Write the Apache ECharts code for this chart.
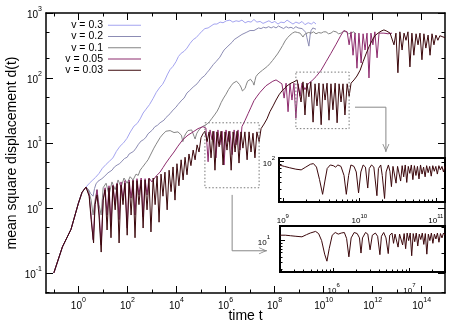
<!DOCTYPE html>
<html>
<head>
<meta charset="utf-8">
<title>mean square displacement</title>
<script src="https://cdn.jsdelivr.net/npm/echarts@6.0.0/dist/echarts.min.js"></script>
<style>
  html, body { margin: 0; padding: 0; background: #fff; }
  #chart { width: 463px; height: 324px; }
</style>
</head>
<body>
<div id="chart"></div>
<script>
// all points are [log10 t, log10 d(t)]
const names = ['v = 0.3', 'v = 0.2', 'v = 0.1', 'v = 0.05', 'v = 0.03']

// common short-time part, identical for every v
const ramp = [[-1.0,-1.0],[-0.65,-0.6],[-0.3,-0.33],[0.0,0.07],[0.15,0.24],[0.31,0.32]]

const v03 = [[0.45,0.38],[0.56,0.42],[0.70,0.47],[0.84,0.53],[0.98,0.61],[1.13,0.67],[1.27,0.72],[1.41,0.77],[1.55,0.87],[1.70,0.95],[1.84,1.00],[1.98,1.07],[2.12,1.17],[2.27,1.26],[2.40,1.30],[2.52,1.37],[2.64,1.46],[2.76,1.52],[2.90,1.59],[3.04,1.68],[3.18,1.78],[3.33,1.86],[3.43,1.90],[3.53,1.97],[3.64,2.06],[3.74,2.13],[3.86,2.18],[3.98,2.25],[4.08,2.33],[4.19,2.38],[4.31,2.41],[4.43,2.46],[4.55,2.53],[4.68,2.59],[4.80,2.62],[4.92,2.67],[5.04,2.72],[5.16,2.76],[5.29,2.77],[5.41,2.80],[5.53,2.83],[5.65,2.83],[5.78,2.86],[5.90,2.85],[6.04,2.88],[6.18,2.89],[6.30,2.86],[6.43,2.88],[6.55,2.87],[6.67,2.89],[6.80,2.85],[6.92,2.87],[7.04,2.86],[7.16,2.90],[7.28,2.86],[7.41,2.87],[7.53,2.84],[7.65,2.86],[7.77,2.88],[7.89,2.85],[8.01,2.87],[8.14,2.83],[8.26,2.86],[8.39,2.85],[8.51,2.89],[8.63,2.86],[8.75,2.83],[8.87,2.86],[9.00,2.84],[9.12,2.87],[9.24,2.82],[9.37,2.85],[9.50,2.83],[9.60,2.86],[9.69,2.83]]

const v02 = [[0.42,0.28],[0.50,0.22],[0.60,0.18],[0.66,0.30],[0.72,0.37],[0.80,0.41],[0.88,0.43],[0.96,0.45],[1.05,0.48],[1.13,0.50],[1.21,0.54],[1.29,0.55],[1.37,0.58],[1.47,0.63],[1.58,0.66],[1.68,0.68],[1.78,0.72],[1.88,0.76],[1.99,0.78],[2.07,0.83],[2.15,0.85],[2.25,0.87],[2.35,0.92],[2.45,0.98],[2.56,1.03],[2.66,1.05],[2.76,1.09],[2.84,1.14],[2.92,1.17],[3.02,1.20],[3.12,1.25],[3.22,1.27],[3.33,1.31],[3.41,1.32],[3.49,1.35],[3.57,1.39],[3.65,1.42],[3.74,1.45],[3.82,1.49],[3.90,1.52],[3.98,1.55],[4.06,1.59],[4.14,1.62],[4.22,1.66],[4.31,1.69],[4.43,1.77],[4.52,1.80],[4.60,1.83],[4.68,1.86],[4.76,1.89],[4.84,1.91],[4.92,1.95],[5.00,1.99],[5.08,2.02],[5.16,2.04],[5.24,2.08],[5.33,2.12],[5.41,2.15],[5.51,2.21],[5.61,2.25],[5.69,2.28],[5.77,2.32],[5.86,2.38],[5.94,2.43],[6.02,2.46],[6.10,2.49],[6.18,2.52],[6.27,2.55],[6.35,2.59],[6.43,2.62],[6.51,2.63],[6.59,2.65],[6.67,2.67],[6.75,2.68],[6.84,2.70],[6.92,2.71],[7.00,2.73],[7.08,2.74],[7.16,2.73],[7.24,2.75],[7.35,2.77],[7.45,2.76],[7.55,2.78],[7.65,2.77],[7.76,2.79],[7.86,2.77],[7.96,2.79],[8.06,2.77],[8.16,2.80],[8.26,2.78],[8.37,2.76],[8.47,2.79],[8.57,2.77],[8.67,2.78],[8.77,2.76],[8.87,2.79],[8.96,2.77],[9.04,2.78],[9.12,2.76],[9.20,2.74],[9.28,2.70],[9.32,2.62],[9.40,2.49],[9.45,2.66],[9.49,2.73],[9.56,2.77],[9.61,2.76],[9.69,2.75]]

const v01 = [[0.40,0.28],[0.52,0.12],[0.60,-0.11],[0.68,0.12],[0.76,0.28],[0.84,0.05],[0.93,-0.11],[1.01,0.31],[1.13,0.38],[1.25,0.20],[1.37,0.40],[1.50,0.28],[1.62,0.43],[1.74,0.32],[1.86,0.46],[1.99,0.38],[2.11,0.48],[2.23,0.43],[2.35,0.52],[2.44,0.50],[2.52,0.58],[2.60,0.62],[2.68,0.66],[2.76,0.70],[2.84,0.74],[2.92,0.80],[3.00,0.86],[3.08,0.92],[3.17,0.98],[3.25,1.03],[3.33,1.08],[3.41,1.12],[3.49,1.15],[3.57,1.18],[3.65,1.20],[3.74,1.19],[3.82,1.18],[3.90,1.16],[3.98,1.15],[4.06,1.17],[4.14,1.18],[4.20,1.12],[4.26,1.02],[4.32,1.10],[4.39,1.15],[4.47,1.19],[4.55,1.22],[4.62,1.20],[4.68,1.18],[4.72,1.10],[4.76,1.06],[4.82,1.14],[4.88,1.18],[4.96,1.22],[5.05,1.25],[5.15,1.27],[5.25,1.29],[5.35,1.33],[5.45,1.38],[5.55,1.43],[5.66,1.49],[5.74,1.55],[5.82,1.62],[5.92,1.69],[6.02,1.75],[6.12,1.82],[6.23,1.88],[6.31,1.92],[6.39,1.94],[6.45,1.95],[6.51,1.94],[6.57,1.90],[6.63,1.86],[6.69,1.80],[6.75,1.77],[6.80,1.84],[6.84,1.89],[6.90,1.95],[6.96,1.98],[7.02,1.98],[7.08,1.97],[7.12,1.93],[7.16,1.89],[7.20,1.96],[7.24,2.02],[7.32,2.06],[7.41,2.09],[7.51,2.12],[7.61,2.15],[7.71,2.18],[7.81,2.22],[7.92,2.27],[8.02,2.32],[8.12,2.37],[8.22,2.43],[8.33,2.50],[8.43,2.57],[8.53,2.62],[8.63,2.66],[8.73,2.69],[8.83,2.71],[8.94,2.70],[9.04,2.69],[9.10,2.66],[9.16,2.63],[9.22,2.67],[9.28,2.69],[9.38,2.70],[9.49,2.69],[9.59,2.71],[9.69,2.68],[9.80,2.70],[9.90,2.69],[10.00,2.71],[10.10,2.71],[10.20,2.68],[10.30,2.69],[10.40,2.72],[10.51,2.71],[10.61,2.68],[10.71,2.69],[10.82,2.72],[10.92,2.71],[11.02,2.68],[11.12,2.69],[11.22,2.71],[11.32,2.68]]

const v005 = [[0.44,0.20],[0.52,-0.11],[0.60,-0.49],[0.68,0.05],[0.76,0.28],[0.84,-0.03],[0.93,-0.57],[1.01,0.12],[1.09,0.31],[1.17,-0.11],[1.25,0.34],[1.33,-0.26],[1.41,0.35],[1.50,0.05],[1.58,0.38],[1.66,-0.18],[1.74,0.40],[1.82,0.12],[1.90,0.42],[1.99,-0.31],[2.07,0.43],[2.15,0.15],[2.23,0.43],[2.31,-0.11],[2.39,0.45],[2.47,0.20],[2.56,0.46],[2.64,-0.14],[2.72,0.45],[2.80,0.20],[2.88,0.46],[3.00,0.40],[3.17,0.49],[3.33,0.55],[3.45,0.62],[3.57,0.69],[3.74,0.78],[3.90,0.86],[4.06,0.95],[4.26,1.05],[4.47,1.12],[4.68,1.17],[4.88,1.22],[5.08,1.25],[5.20,1.23],[5.29,0.71],[5.37,1.20],[5.45,1.05],[5.53,1.18],[5.61,0.77],[5.69,1.20],[5.77,0.97],[5.86,1.18],[5.94,0.66],[6.02,1.20],[6.10,1.02],[6.18,1.18],[6.27,0.82],[6.35,1.20],[6.43,0.97],[6.51,1.20],[6.59,0.89],[6.67,1.25],[6.80,1.35],[6.92,1.45],[7.04,1.55],[7.16,1.65],[7.29,1.72],[7.41,1.78],[7.53,1.83],[7.65,1.88],[7.81,1.92],[7.93,1.95],[8.06,1.97],[8.18,1.94],[8.30,1.91],[8.39,1.69],[8.47,1.92],[8.55,1.48],[8.63,1.91],[8.71,1.66],[8.79,1.92],[8.87,1.38],[8.96,1.91],[9.04,1.72],[9.12,1.92],[9.24,1.82],[9.37,1.91],[9.53,1.96],[9.69,2.02],[9.90,2.12],[10.10,2.25],[10.30,2.38],[10.51,2.52],[10.71,2.66],[10.83,2.73],[10.96,2.71],[11.04,2.51],[11.12,2.71],[11.20,2.35],[11.28,2.69],[11.36,2.15],[11.44,2.69],[11.53,2.23],[11.61,2.68],[11.69,2.43],[11.77,2.69],[11.85,2.00],[11.93,2.69],[12.01,2.51],[12.09,2.71],[12.18,2.31],[12.26,2.69],[12.34,2.66],[12.46,2.69],[12.63,2.68],[12.79,2.69]]

const v003 = [[0.44,0.18],[0.52,-0.18],[0.62,-0.54],[0.68,0.05],[0.76,0.20],[0.84,-0.11],[0.93,-0.68],[1.01,0.12],[1.09,0.28],[1.17,-0.34],[1.25,0.31],[1.33,-0.46],[1.41,0.34],[1.50,-0.03],[1.58,0.37],[1.66,-0.54],[1.74,0.35],[1.82,0.05],[1.90,0.38],[1.99,-0.42],[2.07,0.40],[2.15,-0.11],[2.23,0.42],[2.31,-0.46],[2.39,0.42],[2.47,0.05],[2.56,0.43],[2.64,-0.31],[2.72,0.43],[2.80,-0.03],[2.88,0.45],[2.96,-0.37],[3.05,0.46],[3.13,0.05],[3.21,0.49],[3.29,-0.22],[3.37,0.52],[3.45,0.18],[3.53,0.55],[3.62,-0.03],[3.70,0.58],[3.78,0.25],[3.86,0.63],[3.94,0.12],[4.02,0.68],[4.10,0.34],[4.19,0.74],[4.27,0.43],[4.35,0.78],[4.43,0.51],[4.51,0.83],[4.59,0.65],[4.68,0.89],[4.76,0.74],[4.84,0.97],[4.92,0.86],[5.00,1.08],[5.08,1.14],[5.16,1.18],[5.25,1.02],[5.33,1.17],[5.41,0.77],[5.49,1.18],[5.57,0.58],[5.65,1.17],[5.74,0.94],[5.82,1.18],[5.90,0.66],[5.98,1.17],[6.06,0.89],[6.14,1.18],[6.23,0.58],[6.31,1.17],[6.39,0.86],[6.47,1.18],[6.55,0.69],[6.63,1.17],[6.71,0.92],[6.79,1.17],[6.88,0.74],[6.96,1.17],[7.04,0.86],[7.12,1.15],[7.20,0.77],[7.28,1.17],[7.37,1.02],[7.45,1.22],[7.57,1.29],[7.69,1.37],[7.81,1.48],[7.94,1.57],[8.06,1.66],[8.18,1.74],[8.30,1.80],[8.43,1.85],[8.55,1.89],[8.67,1.92],[8.79,1.94],[8.92,1.97],[9.00,1.94],[9.08,1.63],[9.16,1.94],[9.24,1.43],[9.32,1.92],[9.40,1.71],[9.48,1.94],[9.57,1.32],[9.65,1.91],[9.73,1.57],[9.81,1.92],[9.90,1.28],[9.98,1.91],[10.06,1.66],[10.14,1.92],[10.22,1.35],[10.30,1.91],[10.38,1.51],[10.47,1.92],[10.55,1.31],[10.63,1.91],[10.71,1.63],[10.79,1.91],[10.87,1.43],[10.96,1.91],[11.04,1.72],[11.12,1.92],[11.24,1.97],[11.36,2.03],[11.49,2.12],[11.61,2.25],[11.73,2.37],[11.85,2.48],[11.97,2.57],[12.09,2.65],[12.22,2.69],[12.34,2.72],[12.46,2.74],[12.58,2.72],[12.71,2.69],[12.79,2.71],[12.87,2.51],[12.95,2.69],[13.03,2.08],[13.11,2.71],[13.20,2.43],[13.28,2.69],[13.36,2.58],[13.44,2.71],[13.52,2.17],[13.60,2.69],[13.68,2.35],[13.77,2.68],[13.85,2.51],[13.93,2.69],[14.01,2.28],[14.09,2.68],[14.17,2.46],[14.26,2.66],[14.34,2.35],[14.42,2.68],[14.50,2.51],[14.58,2.66],[14.66,2.58],[14.74,2.65],[14.82,2.62],[14.95,2.62]]

// the two zoomed windows (v = 0.03)
const inset1 = [[8.95,1.95],[9.02,1.93],[9.09,1.91],[9.17,1.89],[9.24,1.88],[9.30,1.92],[9.36,1.96],[9.40,1.97],[9.44,1.92],[9.48,1.74],[9.52,1.53],[9.55,1.72],[9.58,1.90],[9.62,1.95],[9.66,1.94],[9.69,1.92],[9.72,1.95],[9.76,1.93],[9.80,1.80],[9.83,1.53],[9.86,1.80],[9.89,1.95],[9.93,1.93],[9.96,1.85],[9.99,1.55],[10.02,1.85],[10.05,1.95],[10.08,1.92],[10.11,1.62],[10.13,1.90],[10.16,1.95],[10.19,1.92],[10.23,1.51],[10.25,1.90],[10.28,1.95],[10.30,1.80],[10.33,1.47],[10.35,1.85],[10.38,1.95],[10.40,1.86],[10.42,1.64],[10.44,1.93],[10.46,1.95],[10.48,1.69],[10.50,1.93],[10.52,1.94],[10.54,1.72],[10.56,1.94],[10.58,1.78],[10.60,1.95],[10.62,1.70],[10.64,1.93],[10.66,1.83],[10.68,1.95],[10.70,1.74],[10.72,1.94],[10.74,1.80],[10.76,1.93],[10.78,1.75],[10.80,1.95],[10.82,1.82],[10.84,1.92],[10.86,1.78],[10.88,1.94],[10.90,1.84],[10.92,1.93],[10.94,1.79],[10.96,1.94],[10.98,1.86],[11.00,1.93],[11.02,1.82],[11.04,1.94],[11.06,1.88],[11.08,1.93],[11.10,1.85],[11.12,1.93]]

const inset2 = [[5.29,1.10],[5.36,1.10],[5.43,1.09],[5.50,1.08],[5.58,1.07],[5.64,1.11],[5.69,1.14],[5.76,1.17],[5.80,1.13],[5.84,1.00],[5.88,0.75],[5.91,0.62],[5.94,0.85],[5.98,1.10],[6.02,1.15],[6.06,1.12],[6.10,1.14],[6.14,1.15],[6.17,1.04],[6.20,0.70],[6.23,1.05],[6.27,1.15],[6.31,1.13],[6.34,1.05],[6.36,0.77],[6.38,1.05],[6.42,1.15],[6.45,1.12],[6.48,0.83],[6.51,1.10],[6.55,1.14],[6.58,1.08],[6.61,0.74],[6.63,1.08],[6.66,1.15],[6.69,1.05],[6.72,0.76],[6.74,1.10],[6.77,1.14],[6.79,0.95],[6.81,1.12],[6.83,1.15],[6.85,0.88],[6.87,1.12],[6.89,1.14],[6.91,0.92],[6.93,1.13],[6.95,0.85],[6.97,1.14],[6.99,1.00],[7.01,1.14],[7.03,0.72],[7.05,1.13],[7.07,0.98],[7.09,1.14],[7.11,0.90],[7.13,1.12],[7.15,1.02],[7.17,1.14],[7.19,0.93],[7.21,1.13],[7.23,0.75],[7.25,1.12],[7.27,1.00],[7.29,1.14],[7.31,0.95],[7.33,1.12],[7.35,1.03],[7.37,1.14],[7.39,0.97],[7.41,1.13],[7.43,1.05],[7.45,1.14],[7.47,1.10]]

// dotted windows in the main plot and the arrows pointing to the insets
const box1 = [[8.87,2.09],[11.04,2.09],[11.04,1.22],[8.87,1.22],[8.87,2.09]]
const box2 = [[5.16,1.31],[7.37,1.31],[7.37,0.31],[5.16,0.31],[5.16,1.31]]
const arrow1 = [[11.28,1.55],[12.54,1.55],[12.54,0.86]]
const arrow2 = [[6.27,0.20],[6.27,-0.66],[7.69,-0.66]]

// tick positions (decade exponents)
const mainXLabels = [0, 2, 4, 6, 8, 10, 12, 14]
const mainXOdd = [-1, 1, 3, 5, 7, 9, 11, 13]
const mainYLabels = [-1, 0, 1, 2, 3]
const inset1XLabels = [9, 10, 11]
const inset1YLabels = [2]
const inset2XLabels = [6, 7]
const inset2YLabels = [1]

const colors = ['#a4a4f0', '#8c8cb4', '#858585', '#8e2c6e', '#3c080c']
const FONT = '"Liberation Sans", Arial, Helvetica, sans-serif'

const logMinor = (decades, factors) =>
  decades.flatMap((d) => factors.map((f) => d + Math.log10(f)))

const powLabel = (v) => '{b|10}{s|' + Math.round(v) + '}'
const richFor = (size) => ({
  b: { fontFamily: FONT, fontSize: size, lineHeight: size + 4, verticalAlign: 'bottom', color: '#000' },
  s: { fontFamily: FONT, fontSize: Math.round(size * 0.72), lineHeight: Math.round(size * 0.8), verticalAlign: 'top', color: '#000' },
})

function axis(gridIndex, position, range, ticks, tickLen, labels, labelSize, margin) {
  return {
    type: 'value',
    gridIndex,
    position,
    min: range[0],
    max: range[1],
    splitLine: { show: false },
    axisLine: { show: false, onZero: false },
    axisTick: {
      show: true,
      inside: true,
      length: tickLen,
      customValues: ticks,
      lineStyle: { color: '#000', width: 1 },
    },
    axisLabel: labels
      ? { show: true, customValues: labels, margin, formatter: powLabel, rich: richFor(labelSize) }
      : { show: false },
  }
}

const frameLine = { show: true, onZero: false, lineStyle: { color: '#000', width: 1.5 } }

const mainX = [-1.32, 14.95]
const mainY = [-1.31, 3]
const in1X = [8.95, 11.12]
const in1Y = [1.42, 2.05]
const in2X = [5.29, 7.47]
const in2Y = [0.42, 1.27]

const mainRect = { left: 46, top: 13, width: 399, height: 280 }
const in1Rect = { left: 279, top: 158, width: 166, height: 44 }
const in2Rect = { left: 280, top: 226, width: 165, height: 46 }

const xAxes = [
  Object.assign(axis(0, 'bottom', mainX, mainXLabels, 7, mainXLabels, 10, 4), {
    axisLine: frameLine,
    name: 'time t',
    nameLocation: 'middle',
    nameGap: 16,
    nameMoveOverlap: false,
    nameTextStyle: { fontFamily: FONT, fontSize: 14, color: '#000' },
  }),
  Object.assign(axis(0, 'top', mainX, mainXLabels, 7, null), { axisLine: frameLine }),
  axis(1, 'bottom', mainX, mainXOdd, 3.5, null),
  axis(1, 'top', mainX, mainXOdd, 3.5, null),
  axis(2, 'bottom', in1X, inset1XLabels, 4, inset1XLabels, 8, 11),
  axis(3, 'bottom', in1X, logMinor([8, 9, 10], [2, 3, 4, 5, 6, 7, 8, 9]), 2.5, null),
  axis(4, 'bottom', in2X, inset2XLabels, 4, inset2XLabels, 8, 10.5),
  axis(5, 'bottom', in2X, logMinor([5, 6, 7], [2, 3, 4, 5, 6, 7, 8, 9]), 2.5, null),
]

const yAxes = [
  Object.assign(axis(0, 'left', mainY, mainYLabels, 7, mainYLabels, 10, 4), {
    axisLine: frameLine,
    name: 'mean square displacement d(t)',
    nameLocation: 'middle',
    nameGap: 27,
    nameMoveOverlap: false,
    nameTextStyle: { fontFamily: FONT, fontSize: 14, color: '#000' },
  }),
  Object.assign(axis(0, 'right', mainY, mainYLabels, 7, null), { axisLine: frameLine }),
  axis(1, 'left', mainY, logMinor([-2, -1, 0, 1, 2], [2, 5]), 3.5, null),
  axis(1, 'right', mainY, logMinor([-2, -1, 0, 1, 2], [2, 5]), 3.5, null),
  axis(2, 'left', in1Y, inset1YLabels, 5, inset1YLabels, 8, 4),
  axis(3, 'left', in1Y, logMinor([1], [3, 4, 5, 6, 7, 8, 9]), 2.5, null),
  axis(4, 'left', in2Y, inset2YLabels, 5, inset2YLabels, 8, 10),
  axis(5, 'left', in2Y, logMinor([0], [2, 3, 4, 5, 6, 7, 8, 9]), 2.5, null),
]

const frameGrid = (r) =>
  Object.assign({ show: true, borderColor: '#000', borderWidth: 2, backgroundColor: '#fff', outerBoundsMode: 'none' }, r)
const plainGrid = (r) => Object.assign({ show: false, outerBoundsMode: 'none' }, r)

const mainSeries = [v03, v02, v01, v005, v003].map((pts, i) => ({
  name: names[i],
  type: 'line',
  xAxisIndex: 0,
  yAxisIndex: 0,
  data: ramp.concat(pts),
  symbol: 'none',
  showSymbol: false,
  color: colors[i],
  lineStyle: { color: colors[i], width: 1 },
  z: 3 + i,
}))

const dotted = (pts) => ({
  type: 'line',
  xAxisIndex: 0,
  yAxisIndex: 0,
  data: pts,
  symbol: 'none',
  silent: true,
  lineStyle: { color: '#777', width: 1, type: [1.5, 2] },
  z: 10,
})

const arrow = (pts, head, size, offset) => ({
  type: 'line',
  xAxisIndex: 0,
  yAxisIndex: 0,
  symbol: 'none',
  showSymbol: true,
  silent: true,
  data: pts.map((p, i) =>
    i === pts.length - 1
      ? { value: p, symbol: head, symbolSize: size, symbolOffset: offset, itemStyle: { color: '#888' } }
      : { value: p }
  ),
  lineStyle: { color: '#888', width: 1 },
  z: 10,
})

const insetSeries = (pts, idx) => ({
  type: 'line',
  xAxisIndex: idx,
  yAxisIndex: idx,
  data: pts,
  symbol: 'none',
  showSymbol: false,
  lineStyle: { color: colors[4], width: 1 },
  z: 20,
})

const chart = echarts.init(document.getElementById('chart'))

chart.setOption({
  animation: false,
  backgroundColor: '#fff',
  textStyle: { fontFamily: FONT, color: '#000' },
  legend: {
    data: names,
    orient: 'vertical',
    align: 'right',
    right: 322,
    top: 19.5,
    padding: 0,
    icon: 'rect',
    itemWidth: 33,
    itemHeight: 1,
    itemGap: 0,
    selectedMode: false,
    textStyle: { fontFamily: FONT, fontSize: 10.5, lineHeight: 11.3, color: '#000' },
  },
  grid: [
    plainGrid(mainRect),
    plainGrid(mainRect),
    frameGrid(in1Rect),
    plainGrid(in1Rect),
    frameGrid(in2Rect),
    plainGrid(in2Rect),
  ],
  xAxis: xAxes,
  yAxis: yAxes,
  series: [
    ...mainSeries,
    dotted(box1),
    dotted(box2),
    arrow(arrow1, 'path://M0,0 L5,8 L10,0 L8.8,0 L5,6 L1.2,0 Z', [7, 8], [0, '-50%']),
    arrow(arrow2, 'path://M0,0 L8,5 L0,10 L0,8.8 L6,5 L0,1.2 Z', [8, 7], ['-50%', 0]),
    insetSeries(inset1, 4),
    insetSeries(inset2, 6),
  ],
})
</script>
</body>
</html>
